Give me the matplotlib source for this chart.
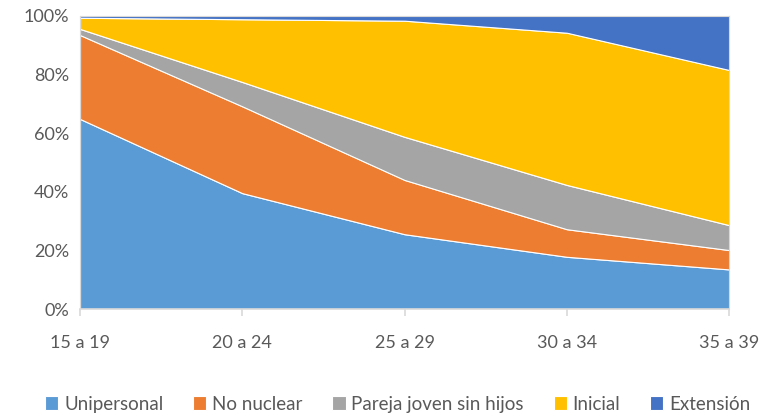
import matplotlib.pyplot as plt
import numpy as np

plt.rcParams['font.family'] = ['Lato', 'DejaVu Sans']

# age groups and share of households by type (%)
grupos = ['15 a 19', '20 a 24', '25 a 29', '30 a 34', '35 a 39']
unipersonal = [64.8, 39.5, 25.5, 17.8, 13.5]
no_nuclear = [28.6, 29.6, 18.5, 9.4, 6.6]
pareja = [2.1, 8.3, 14.7, 15.1, 8.5]
inicial = [3.8, 21.4, 39.6, 51.9, 52.9]
extension = [0.7, 1.2, 1.7, 5.8, 18.5]

nombres = ['Unipersonal', 'No nuclear', 'Pareja joven sin hijos', 'Inicial', 'Extensión']
colores = ['#5B9BD5', '#ED7D31', '#A5A5A5', '#FFC000', '#4472C4']

series = np.array([unipersonal, no_nuclear, pareja, inicial, extension])
series = series / series.sum(axis=0) * 100
x = np.arange(len(grupos))

fig = plt.figure(figsize=(7.65, 4.19), dpi=100)
ax = fig.add_axes([0.1046, 0.2625, 0.8484, 0.7]) 

ax.stackplot(x, series, colors=colores, labels=nombres,
             edgecolor='white', linewidth=0.8)

ax.set_xlim(0, len(grupos) - 1)
ax.set_ylim(0, 100)
ax.set_yticks(range(0, 101, 20))
ax.set_yticklabels([f'{v}%' for v in range(0, 101, 20)])
ax.set_xticks(x)
ax.set_xticklabels(grupos)

for s in ['top', 'right', 'left']:
    ax.spines[s].set_color('#D9D9D9')
    ax.spines[s].set_linewidth(0.8)
ax.spines['bottom'].set_color('#D9D9D9')
ax.spines['bottom'].set_linewidth(1.2)
ax.tick_params(axis='y', length=0, pad=8, labelsize=13, labelcolor='#595959')
ax.tick_params(axis='x', length=5, width=1.2, color='#D9D9D9', pad=14,
               labelsize=13, labelcolor='#595959')

fig.legend(loc='lower center', bbox_to_anchor=(0.52, -0.025), ncol=5, frameon=False,
           fontsize=13.5, labelcolor='#595959', handlelength=0.7, handleheight=0.7,
           handletextpad=0.3, columnspacing=1.6)

fig.savefig('out.png', dpi=100)
